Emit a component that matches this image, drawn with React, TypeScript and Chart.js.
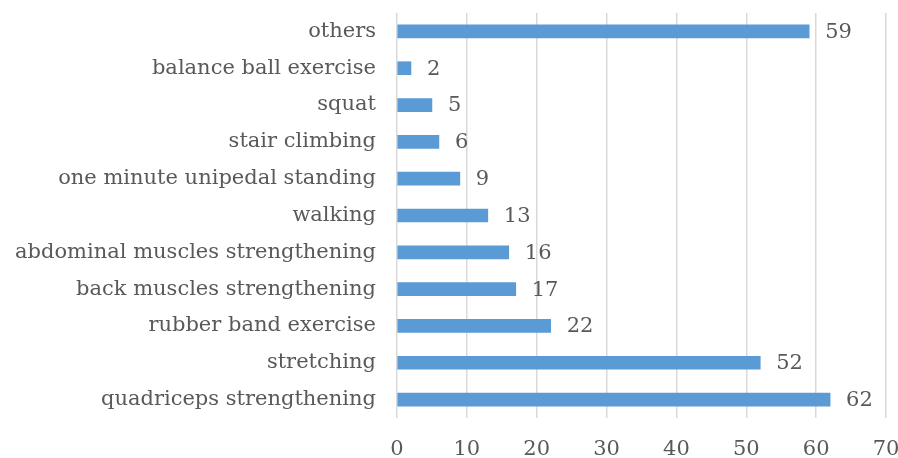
import React, { useEffect, useRef } from "react";
import { Chart, registerables } from "chart.js";

Chart.register(...registerables);

const categories = [
  "others",
  "balance ball exercise",
  "squat",
  "stair climbing",
  "one minute unipedal standing",
  "walking",
  "abdominal muscles strengthening",
  "back muscles strengthening",
  "rubber band exercise",
  "stretching",
  "quadriceps strengthening",
];
const values = [59, 2, 5, 6, 9, 13, 16, 17, 22, 52, 62];
const xTicks = [0, 10, 20, 30, 40, 50, 60, 70];

const FONT = "'DejaVu Serif', serif";
const TEXT = "#595959";
const SIZE = 21;

const labelPlugin = {
  id: "valueLabels",
  afterDatasetsDraw(chart: any) {
    const ctx = chart.ctx;
    const meta = chart.getDatasetMeta(0);
    ctx.save();
    ctx.fillStyle = TEXT;
    ctx.font = `${SIZE}px ${FONT}`;
    ctx.textAlign = "left";
    ctx.textBaseline = "middle";
    meta.data.forEach((bar: any, i: number) => {
      ctx.fillText(String(values[i]), bar.x + 16, bar.y + 1);
    });
    ctx.restore();
  },
};

export default function App() {
  const ref = useRef<HTMLCanvasElement>(null);
  useEffect(() => {
    document.body.style.margin = "0";
    const chart = new Chart(ref.current!, {
      type: "bar",
      data: {
        labels: categories,
        datasets: [
          {
            data: values,
            backgroundColor: "#5B9BD5",
            barThickness: 13,
          },
        ],
      },
      options: {
        indexAxis: "y",
        animation: false,
        responsive: false,
        layout: { padding: { top: 13, right: 12, left: 0, bottom: 0 } },
        plugins: { legend: { display: false }, tooltip: { enabled: false } },
        scales: {
          x: {
            min: 0,
            max: 70,
            afterBuildTicks: (s: any) => {
              s.ticks = xTicks.map((v) => ({ value: v }));
            },
            afterFit: (s: any) => {
              s.height = 40;
              s.paddingLeft = 0;
              s.paddingRight = 0;
            },
            grid: { color: "#d9d9d9", lineWidth: 1.5, drawTicks: false },
            border: { display: false },
            ticks: { color: TEXT, font: { family: FONT, size: SIZE }, padding: 19 },
          },
          y: {
            afterFit: (s: any) => {
              s.width = 397;
              s.paddingTop = 0;
              s.paddingBottom = 0;
            },
            grid: { display: false, drawTicks: false },
            border: { display: false },
            ticks: { color: TEXT, font: { family: FONT, size: SIZE }, padding: 21, autoSkip: false },
          },
        },
      },
      plugins: [labelPlugin],
    });
    return () => chart.destroy();
  }, []);
  return (
    <div style={{ width: 898, height: 458 }}>
      <canvas ref={ref} width={898} height={458} />
    </div>
  );
}
